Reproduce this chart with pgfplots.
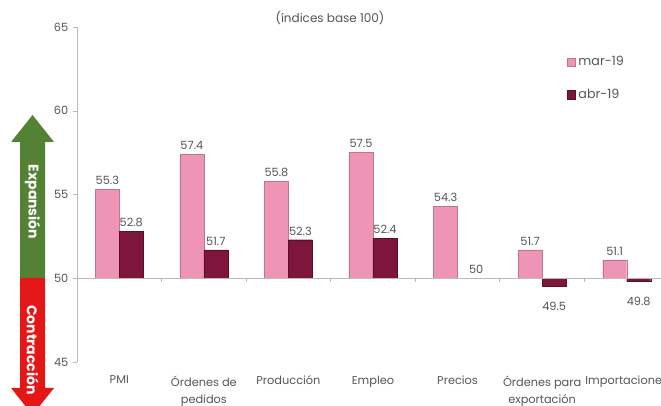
\documentclass[border=0pt]{standalone}
\usepackage{pgfplots}
\pgfplotsset{compat=1.18}
\usepackage{pgfplotstable}
\usepackage{fontspec}
\setmainfont{Poppins}
\definecolor{pinkbar}{RGB}{238,148,180}
\definecolor{darkbar}{RGB}{125,22,58}
\definecolor{arrgreen}{RGB}{84,130,53}
\definecolor{arrred}{RGB}{228,22,22}
\definecolor{axgray}{RGB}{185,185,185}
\definecolor{txtgray}{RGB}{85,85,85}
\pgfplotstableread{
x mar abr
0 55.3 52.8
1 57.4 51.7
2 55.8 52.3
3 57.5 52.4
4 54.3 50
5 51.7 49.5
6 51.1 49.8
}\datatable
\begin{document}
\begin{tikzpicture}
\useasboundingbox (0,0) rectangle (495.75pt,304.5pt);
\clip (0,0) rectangle (495.75pt,304.5pt);
% title
\node[text=txtgray, font=\fontsize{9}{11}\selectfont] at (247.5pt,291pt) {(índices base 100)};
% arrows
\fill[arrgreen] (15pt,96pt) -- (15pt,198pt) -- (8.3pt,198pt) -- (24.4pt,218.25pt) -- (40.5pt,198pt) -- (33.75pt,198pt) -- (33.75pt,96pt) -- cycle;
\fill[arrred] (15pt,96pt) -- (15pt,13.5pt) -- (8.3pt,13.5pt) -- (24.4pt,-6.75pt) -- (40.5pt,13.5pt) -- (33.75pt,13.5pt) -- (33.75pt,96pt) -- cycle;
\node[rotate=-90, text=white, font=\bfseries\fontsize{10.5}{12}\selectfont] at (24.4pt,153pt) {Expansión};
\node[rotate=-90, text=white, font=\bfseries\fontsize{10.5}{12}\selectfont] at (24.4pt,42pt) {Contracción};
\begin{axis}[
  at={(57.75pt,33pt)}, anchor=south west, scale only axis,
  width=444pt, height=251.25pt,
  xmin=-0.5, xmax=6.5, ymin=-5, ymax=15,
  ybar=0pt, bar width=18pt,
  /pgf/number format/assume math mode=true,
  axis y line*=left, axis x line*=bottom,
  x axis line style={draw=none},
  y axis line style={draw=axgray, line width=0.6pt},
  ytick={-5,0,5,10,15}, yticklabels={45,50,55,60,65},
  yticklabel style={text=txtgray, font=\fontsize{8.5}{10}\selectfont},
  ytick style={draw=axgray},
  tick align=outside, major tick length=3pt,
  xtick={0,...,6},
  xticklabels={PMI,{Órdenes de\\pedidos},Producción,Empleo,Precios,{Órdenes para\\exportación},Importaciones},
  xticklabel style={align=center, text=txtgray, font=\fontsize{8.5}{12.5}\selectfont, yshift=-4pt},
  xtick style={draw=none},
  clip=false,
  nodes near coords, nodes near coords align=vertical, point meta=explicit,
  every node near coord/.append style={text=txtgray, font=\fontsize{8.5}{10}\selectfont},
  legend style={at={(0.82,0.93)}, anchor=north west, draw=none, fill=none,
    row sep=12pt, font=\fontsize{9.5}{11}\selectfont, text=txtgray},
  legend cell align=left,
  legend image code/.code={\fill[#1] (0pt,-3.5pt) rectangle (6.5pt,3pt);},
]
\addplot[fill=pinkbar, draw=pinkbar!80!black, line width=0.3pt] table[x=x, y expr=\thisrow{mar}-50, meta=mar] {\datatable};
\addlegendentry{mar-19}
\addplot[fill=darkbar, draw=darkbar!70!black, line width=0.3pt,
  coordinate style/.condition={meta<49.9}{anchor=north, yshift=-8pt},
  coordinate style/.condition={meta>49.95 && meta<50.05}{anchor=south, xshift=5pt}]
  table[x=x, y expr=\thisrow{abr}-50, meta=abr] {\datatable};
\addlegendentry{abr-19}
\draw[axgray, line width=0.6pt] (axis cs:-0.5,0) -- (axis cs:6.5,0);
\pgfplotsinvokeforeach{0.5,1.5,2.5,3.5,4.5,5.5}{
  \draw[axgray, line width=0.6pt] (axis cs:#1,0) -- ([yshift=-3pt]axis cs:#1,0);
}
\end{axis}
\end{tikzpicture}
\end{document}
